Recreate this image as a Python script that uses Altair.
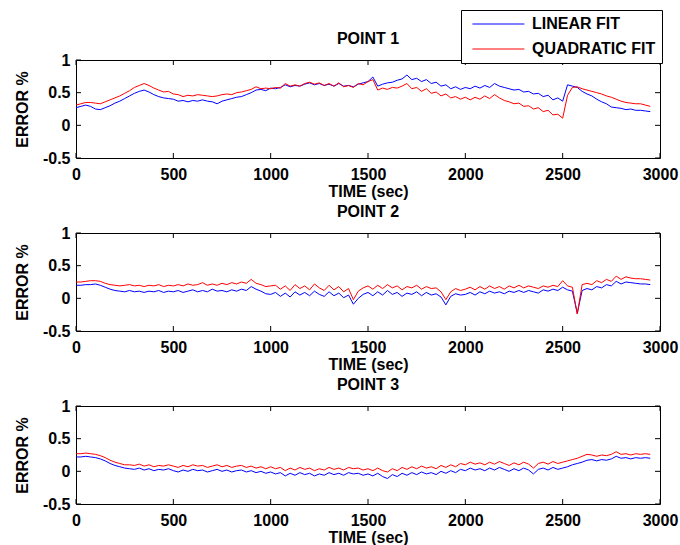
import altair as alt
import pandas as pd

# time grid (seconds)
TIME = list(range(0, 2951, 25))

# POINT 1
P1_LINEAR = [0.27,0.29,0.31,0.29,0.25,0.24,0.27,0.30,0.34,0.37,0.41,0.45,0.49,0.52,0.54,0.51,0.47,0.44,0.42,0.41,
             0.40,0.37,0.38,0.36,0.38,0.37,0.39,0.37,0.36,0.33,0.37,0.39,0.41,0.43,0.44,0.47,0.50,0.54,0.55,0.53,
             0.57,0.56,0.58,0.62,0.59,0.61,0.60,0.63,0.65,0.62,0.64,0.61,0.63,0.60,0.64,0.60,0.61,0.59,0.63,0.65,
             0.67,0.74,0.60,0.63,0.65,0.66,0.69,0.71,0.77,0.70,0.72,0.67,0.70,0.64,0.66,0.60,0.62,0.56,0.59,0.55,
             0.58,0.56,0.60,0.57,0.61,0.58,0.64,0.60,0.58,0.56,0.54,0.55,0.51,0.52,0.48,0.49,0.44,0.46,0.39,0.42,
             0.37,0.62,0.60,0.58,0.52,0.48,0.45,0.40,0.36,0.33,0.28,0.27,0.26,0.24,0.25,0.23,0.23,0.22,0.21]
P1_QUAD = [0.31,0.33,0.35,0.35,0.34,0.33,0.36,0.39,0.42,0.45,0.49,0.53,0.58,0.61,0.64,0.61,0.57,0.54,0.51,0.52,
           0.48,0.47,0.44,0.46,0.45,0.47,0.46,0.45,0.44,0.45,0.47,0.48,0.47,0.50,0.51,0.53,0.55,0.59,0.56,0.57,
           0.56,0.58,0.57,0.64,0.60,0.62,0.60,0.64,0.66,0.63,0.65,0.61,0.64,0.60,0.65,0.59,0.61,0.58,0.64,0.62,
           0.67,0.70,0.54,0.57,0.55,0.58,0.57,0.60,0.64,0.56,0.58,0.52,0.56,0.49,0.51,0.45,0.48,0.42,0.44,0.40,
           0.43,0.39,0.43,0.40,0.45,0.41,0.47,0.42,0.38,0.36,0.33,0.34,0.29,0.30,0.25,0.27,0.21,0.23,0.16,0.17,
           0.11,0.46,0.58,0.59,0.56,0.54,0.52,0.50,0.48,0.45,0.43,0.40,0.37,0.35,0.34,0.33,0.33,0.31,0.29]

# POINT 2
P2_LINEAR = [0.20,0.20,0.21,0.21,0.22,0.20,0.17,0.14,0.12,0.11,0.10,0.12,0.10,0.11,0.09,0.11,0.10,0.12,0.09,0.11,
             0.10,0.12,0.09,0.11,0.13,0.10,0.12,0.10,0.14,0.11,0.12,0.10,0.13,0.11,0.14,0.12,0.18,0.14,0.11,0.07,
             0.06,0.09,0.03,0.08,0.02,0.10,0.05,0.09,0.04,0.11,0.06,0.03,0.10,0.04,0.08,0.01,0.05,-0.09,0.00,0.06,
             0.09,0.04,0.10,0.05,0.12,0.06,0.09,0.03,0.08,0.06,0.10,0.04,0.09,0.05,0.07,0.02,-0.10,0.03,0.07,0.05,
             0.06,0.09,0.05,0.10,0.07,0.11,0.08,0.10,0.07,0.11,0.09,0.12,0.09,0.12,0.10,0.08,0.13,0.11,0.14,0.12,
             0.17,0.13,0.11,-0.23,0.12,0.15,0.13,0.18,0.16,0.21,0.19,0.26,0.22,0.25,0.24,0.23,0.22,0.22,0.21]
P2_QUAD = [0.25,0.25,0.26,0.27,0.27,0.26,0.23,0.21,0.20,0.19,0.20,0.21,0.19,0.20,0.18,0.20,0.19,0.21,0.18,0.20,
           0.19,0.21,0.19,0.22,0.20,0.21,0.24,0.20,0.22,0.20,0.23,0.21,0.24,0.22,0.25,0.23,0.29,0.23,0.21,0.18,
           0.19,0.20,0.14,0.19,0.12,0.21,0.15,0.19,0.13,0.22,0.16,0.12,0.20,0.13,0.18,0.10,0.15,-0.02,0.11,0.16,
           0.19,0.14,0.20,0.15,0.21,0.16,0.19,0.13,0.18,0.16,0.20,0.14,0.18,0.15,0.16,0.10,-0.02,0.10,0.15,0.12,
           0.14,0.17,0.13,0.18,0.14,0.19,0.15,0.18,0.14,0.19,0.16,0.20,0.16,0.19,0.17,0.15,0.19,0.17,0.20,0.18,
           0.27,0.19,0.17,-0.24,0.21,0.23,0.21,0.27,0.24,0.29,0.26,0.34,0.29,0.33,0.31,0.30,0.30,0.29,0.28]

# POINT 3
P3_LINEAR = [0.22,0.22,0.23,0.22,0.21,0.19,0.16,0.12,0.09,0.07,0.05,0.04,0.03,0.05,0.02,0.04,0.01,0.03,0.02,0.04,
             0.01,-0.01,0.02,0.00,0.03,0.01,0.02,-0.01,0.01,0.03,0.00,0.02,-0.01,0.01,0.02,-0.01,0.01,-0.02,0.00,-0.03,
             -0.01,-0.04,-0.02,-0.07,-0.03,-0.06,-0.02,-0.05,-0.03,-0.07,-0.04,-0.06,-0.02,-0.05,-0.03,-0.06,-0.02,-0.04,-0.03,-0.06,
             -0.04,-0.07,-0.03,-0.08,-0.11,-0.05,-0.08,-0.03,-0.06,-0.02,-0.05,-0.01,-0.04,-0.02,-0.05,0.00,-0.03,0.01,-0.02,0.03,
             0.01,0.05,0.02,0.04,0.01,0.05,0.02,0.06,0.03,0.00,0.04,0.01,0.05,0.02,-0.04,0.03,0.05,0.02,0.06,0.03,
             0.05,0.07,0.10,0.12,0.14,0.17,0.18,0.16,0.18,0.17,0.19,0.23,0.20,0.21,0.19,0.21,0.20,0.21,0.20]
P3_QUAD = [0.27,0.27,0.28,0.27,0.26,0.24,0.21,0.17,0.14,0.12,0.10,0.10,0.09,0.11,0.08,0.10,0.07,0.09,0.08,0.10,
           0.08,0.06,0.09,0.07,0.10,0.08,0.09,0.06,0.08,0.10,0.07,0.09,0.06,0.08,0.09,0.06,0.08,0.05,0.07,0.04,
           0.07,0.04,0.06,0.01,0.05,0.02,0.06,0.03,0.05,0.01,0.04,0.02,0.06,0.03,0.05,0.02,0.06,0.04,0.05,0.02,
           0.04,0.01,0.05,0.01,-0.01,0.04,0.01,0.06,0.03,0.07,0.04,0.08,0.05,0.07,0.04,0.09,0.06,0.10,0.07,0.12,
           0.10,0.14,0.11,0.13,0.10,0.14,0.11,0.15,0.12,0.09,0.13,0.10,0.14,0.11,0.05,0.12,0.14,0.11,0.15,0.12,
           0.14,0.16,0.18,0.20,0.23,0.26,0.25,0.23,0.25,0.24,0.26,0.30,0.26,0.27,0.25,0.27,0.26,0.27,0.26]

SERIES = ["LINEAR FIT", "\u00a0QUADRATIC FIT"]
COLORS = ["#0000ff", "#ff0000"]
TITLES = ["POINT 1", "POINT 2", "POINT 3"]
X_TICKS = [0, 500, 1000, 1500, 2000, 2500, 3000]
Y_TICKS = [-0.5, 0, 0.5, 1]

W, H = 584, 98
FONT = "Liberation Sans"
FS = 16
TL = 5  # inward tick length

axis_x = alt.Axis(values=X_TICKS, title="TIME (sec)", ticks=False, domain=False, grid=False,
                  labelFont=FONT, labelFontSize=FS, labelFontWeight="bold", labelColor="black",
                  labelPadding=8, labelFlush=False, labelExpr="toString(datum.value)",
                  titleFont=FONT, titleFontSize=FS,
                  titleFontWeight="bold", titleColor="black", titlePadding=1)
axis_y = alt.Axis(values=Y_TICKS, title="ERROR %", ticks=False, domain=False, grid=False,
                  labelFont=FONT, labelFontSize=FS, labelFontWeight="bold", labelColor="black",
                  labelPadding=6, labelExpr="toString(datum.value)", labelFlush=False,
                  titleFont=FONT, titleFontSize=FS, titleFontWeight="bold", titleColor="black",
                  titlePadding=12)

XENC = alt.X("t:Q", scale=alt.Scale(domain=[0, 3000], nice=False, zero=False), axis=axis_x)
YENC = alt.Y("v:Q", scale=alt.Scale(domain=[-0.5, 1], nice=False, zero=False), axis=axis_y)

color = alt.Color("fit:N", scale=alt.Scale(domain=SERIES, range=COLORS),
                  legend=alt.Legend(orient="none", legendX=385, legendY=-50, title=None,
                                    symbolType="M-0.4,0L7.6,0", symbolSize=169, symbolStrokeWidth=1,
                                    labelOffset=49, labelFont=FONT, labelFontSize=FS,
                                    labelFontWeight="bold", labelColor="black",
                                    padding=6, rowPadding=9, strokeColor="black",
                                    fillColor="white", cornerRadius=0))

xt = pd.DataFrame({"t": X_TICKS})
yt = pd.DataFrame({"v": Y_TICKS})


def panel(lin, quad, title):
    df = pd.concat([
        pd.DataFrame({"t": TIME, "v": lin, "fit": SERIES[0]}),
        pd.DataFrame({"t": TIME, "v": quad, "fit": SERIES[1]}),
    ])
    lines = alt.Chart(df).mark_line(strokeWidth=1).encode(x=XENC, y=YENC, color=color)
    tb = alt.Chart(xt).mark_rule(color="black", strokeWidth=1).encode(
        x=XENC, y=alt.value(0), y2=alt.value(TL))
    bb = alt.Chart(xt).mark_rule(color="black", strokeWidth=1).encode(
        x=XENC, y=alt.value(H), y2=alt.value(H - TL))
    lt = alt.Chart(yt).mark_rule(color="black", strokeWidth=1).encode(
        y=YENC, x=alt.value(0), x2=alt.value(TL))
    rt = alt.Chart(yt).mark_rule(color="black", strokeWidth=1).encode(
        y=YENC, x=alt.value(W), x2=alt.value(W - TL))
    return alt.layer(lines, tb, bb, lt, rt).properties(
        width=W, height=H,
        title=alt.TitleParams(title, fontSize=FS, font=FONT, fontWeight="bold", color="black",
                              anchor="middle", offset=5))


chart = alt.vconcat(
    panel(P1_LINEAR, P1_QUAD, TITLES[0]),
    panel(P2_LINEAR, P2_QUAD, TITLES[1]),
    panel(P3_LINEAR, P3_QUAD, TITLES[2]),
    spacing=3,
).properties(
    padding={"left": 13, "top": 9, "right": 0, "bottom": 0},
    background="white",
).configure_view(stroke="black", strokeWidth=1)

chart.save("out.html", embed_options={"renderer": "svg", "actions": False})
